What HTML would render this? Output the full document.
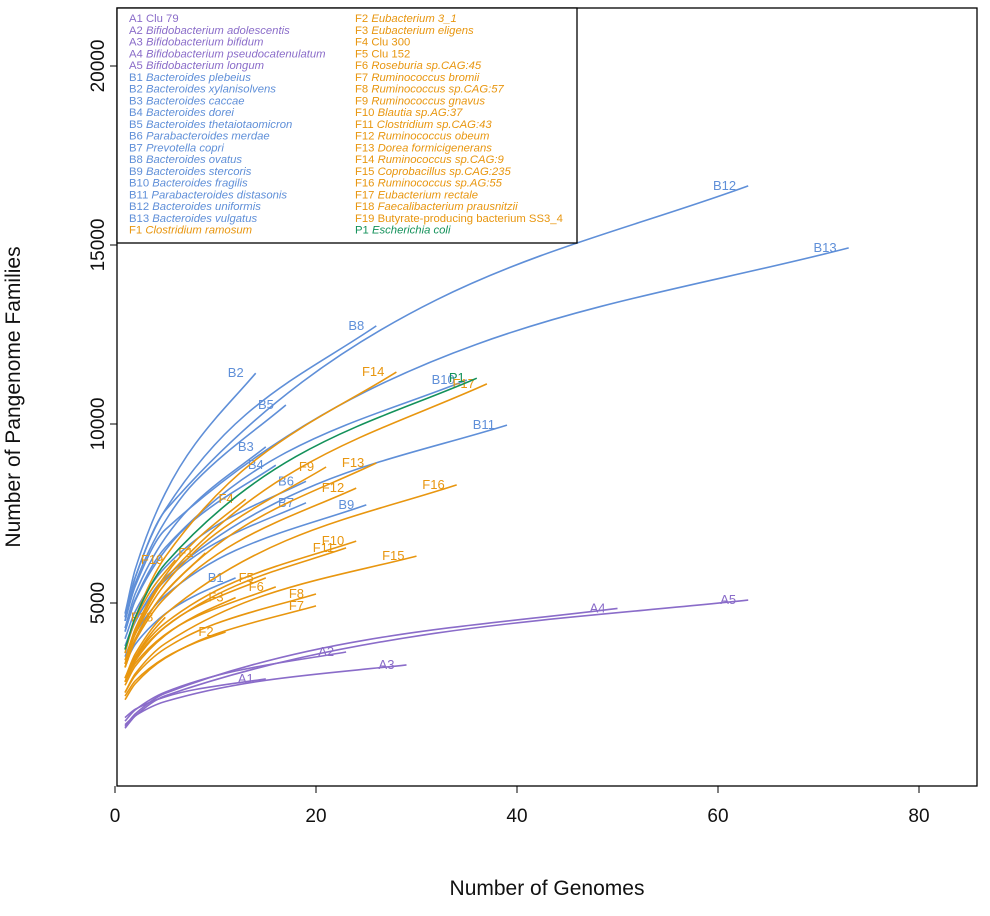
<!DOCTYPE html>
<html><head><meta charset="utf-8"><style>
html,body{margin:0;padding:0;background:#fff;}
svg{display:block;font-family:"Liberation Sans",Arial,sans-serif;}
</style></head><body>
<svg id="chart" width="990" height="916" viewBox="0 0 990 916" xmlns="http://www.w3.org/2000/svg">
<rect x="117" y="8" width="860" height="778" fill="none" stroke="#000" stroke-width="1.3"/>
<g id="axes"></g>
<g id="series"></g>
<g id="legend"></g>
<text x="547" y="895" font-size="21" text-anchor="middle" fill="#111">Number of Genomes</text>
<text transform="translate(20,397) rotate(-90)" font-size="21" text-anchor="middle" fill="#111">Number of Pangenome Families</text>
</svg>
<script>
const xTicks = [0, 20, 40, 60, 80];
const yTicks = [5000, 10000, 15000, 20000];
const seriesNames = ["A1","A2","A3","A4","A5","B1","B2","B3","B4","B5","B6","B7","B8","B9","B10","B11","B12","B13","F1","F2","F3","F4","F5","F6","F7","F8","F9","F10","F11","F12","F13","F14","F15","F16","F17","F18","F19","P1"];
const seriesGroups = ["A","A","A","A","A","B","B","B","B","B","B","B","B","B","B","B","B","B","F","F","F","F","F","F","F","F","F","F","F","F","F","F","F","F","F","F","F","P"];
const seriesGenomes = [
[1,2,5,8,15],[1,2,5,12,23],[1,2,5,15,29],[1,2,5,25,50],[1,2,5,32,63],
[1,2,5,8,12],[1,2,5,8,14],[1,2,5,8,15],[1,2,5,8,16],[1,2,5,8,17],[1,2,5,10,19],[1,2,5,10,19],[1,2,5,13,26],[1,2,5,12,25],[1,2,5,17,35],[1,2,5,20,39],[1,2,5,32,63],[1,2,5,36,73],
[1,2,3,5,9],[1,2,5,8,11],[1,2,5,8,12],[1,2,5,8,13],[1,2,5,8,15],[1,2,5,8,16],[1,2,5,10,20],[1,2,5,10,20],[1,2,5,10,21],[1,2,5,12,24],[1,2,5,12,23],[1,2,5,12,24],[1,2,5,13,26],[1,2,5,14,28],[1,2,5,15,30],[1,2,5,17,34],[1,2,5,18,37],[1,2,3,4,5],[1,2,3,4,6],[1,2,5,18,36]];
const seriesValues = [
[1800,2030,2380,2585,2880],[1700,2010,2510,3100,3630],[1600,1850,2250,2840,3270],[1550,1900,2480,3970,4850],[1500,1840,2410,4160,5080],
[3300,3840,4700,5210,5700],[4700,5930,8070,9450,11420],[4300,5250,6820,7810,9360],[4200,5060,6470,7350,8850],[4500,5540,7290,8400,10530],[4000,4760,6000,7150,8400],[3800,4500,5630,6670,7800],[4600,5710,7610,10260,12740],[3500,4150,5210,6470,7740],[4200,5090,6550,9200,11230],[3700,4460,5720,8310,9970],[4600,5700,7580,13470,16650],[4500,5460,7050,12230,14920],
[3200,3980,4520,5310,6400],[2400,2820,3480,3890,4190],[2700,3230,4100,4640,5150],[3400,4270,5770,6740,7900],[2900,3450,4340,4880,5700],[2800,3310,4120,4610,5450],[2300,2740,3460,4130,4920],[2500,2970,3730,4420,5250],[3300,4120,5540,6930,8800],[2900,3490,4440,5600,6730],[2800,3380,4330,5480,6540],[3200,3930,5150,6680,8210],[3200,3980,5300,7170,8910],[3600,4580,6290,9000,11450],[2500,3020,3870,5225,6310],[2900,3570,4690,6740,8300],[3300,4170,5670,8710,11120],[2800,3470,3930,4290,4600],[3700,4520,5080,5520,6200],[3700,4590,6100,9090,11280]];
const legendCol1 = [["A1","Clu 79",0],["A2","Bifidobacterium adolescentis",1],["A3","Bifidobacterium bifidum",1],["A4","Bifidobacterium pseudocatenulatum",1],["A5","Bifidobacterium longum",1],["B1","Bacteroides plebeius",1],["B2","Bacteroides xylanisolvens",1],["B3","Bacteroides caccae",1],["B4","Bacteroides dorei",1],["B5","Bacteroides thetaiotaomicron",1],["B6","Parabacteroides merdae",1],["B7","Prevotella copri",1],["B8","Bacteroides ovatus",1],["B9","Bacteroides stercoris",1],["B10","Bacteroides fragilis",1],["B11","Parabacteroides distasonis",1],["B12","Bacteroides uniformis",1],["B13","Bacteroides vulgatus",1],["F1","Clostridium ramosum",1]];
const legendCol2 = [["F2","Eubacterium 3_1",1],["F3","Eubacterium eligens",1],["F4","Clu 300",0],["F5","Clu 152",0],["F6","Roseburia sp.CAG:45",1],["F7","Ruminococcus bromii",1],["F8","Ruminococcus sp.CAG:57",1],["F9","Ruminococcus gnavus",1],["F10","Blautia sp.AG:37",1],["F11","Clostridium sp.CAG:43",1],["F12","Ruminococcus obeum",1],["F13","Dorea formicigenerans",1],["F14","Ruminococcus sp.CAG:9",1],["F15","Coprobacillus sp.CAG:235",1],["F16","Ruminococcus sp.AG:55",1],["F17","Eubacterium rectale",1],["F18","Faecalibacterium prausnitzii",1],["F19","Butyrate-producing bacterium SS3_4",0],["P1","Escherichia coli",1]];

const colors = {A:"#8a6cc9", B:"#5f8fd8", F:"#e8960f", P:"#13915a"};
const NS = "http://www.w3.org/2000/svg";
function xs(n){ return 115 + n * 10.05; }
function ys(v){ return 782 - v * 0.0358; }
function mk(tag, attrs, parent){ const e = document.createElementNS(NS, tag); for (const k in attrs) e.setAttribute(k, attrs[k]); parent.appendChild(e); return e; }

const axes = document.getElementById('axes');
xTicks.forEach(t => {
  const l = mk('line', {x1:xs(t), x2:xs(t), y1:786, y2:793, stroke:'#000'}, axes);
  
  
  const tx = mk('text', {x:xs(t), y:822, 'font-size':19, 'text-anchor':'middle', fill:'#111'}, axes);
  
  
  tx.textContent = t;
});
yTicks.forEach(t => {
  const l = mk('line', {x1:110, x2:117, y1:ys(t), y2:ys(t), stroke:'#000'}, axes);
  
  
  const tx = mk('text', {transform:'translate(104,' + ys(t) + ') rotate(-90)', 'font-size':19, 'text-anchor':'middle', fill:'#111'}, axes);
  
  
  tx.textContent = t;
});

// monotone cubic (Fritsch-Carlson) path through points
function smoothPath(pts){
  const n = pts.length, d = [], m = [];
  for (let i = 0; i < n-1; i++) d.push((pts[i+1][1]-pts[i][1])/(pts[i+1][0]-pts[i][0]));
  m[0] = d[0]; m[n-1] = d[n-2];
  for (let i = 1; i < n-1; i++) m[i] = (d[i-1]*d[i] <= 0) ? 0 : 2/(1/d[i-1]+1/d[i]);
  let s = 'M' + pts[0][0].toFixed(1) + ',' + pts[0][1].toFixed(1);
  for (let i = 0; i < n-1; i++) {
    const h = pts[i+1][0]-pts[i][0];
    const c1x = pts[i][0]+h/3, c1y = pts[i][1]+m[i]*h/3;
    const c2x = pts[i+1][0]-h/3, c2y = pts[i+1][1]-m[i+1]*h/3;
    s += 'C' + c1x.toFixed(1) + ',' + c1y.toFixed(1) + ' ' + c2x.toFixed(1) + ',' + c2y.toFixed(1) + ' ' + pts[i+1][0].toFixed(1) + ',' + pts[i+1][1].toFixed(1);
  }
  return s;
}
const sg = document.getElementById('series');
seriesNames.forEach((nm, i) => {
  const col = colors[seriesGroups[i]];
  const pts = seriesGenomes[i].map((n, j) => [xs(n), ys(seriesValues[i][j])]);
  const p = mk('path', {d:smoothPath(pts), fill:'none', stroke:col, 'stroke-width':1.6}, sg);
  
  
  const last = pts[pts.length-1];
  const t = mk('text', {x:last[0]-12, y:last[1]+4, 'font-size':13, 'text-anchor':'end', fill:col}, sg);
  
  
  t.textContent = nm;
});

const lg = document.getElementById('legend');
const box = mk('rect', {x:117, y:8, width:460, height:235, fill:'#fff', stroke:'#000', 'stroke-width':1.3}, lg);


function legendCol(items, x){
  items.forEach((it, i) => {
    const grp = it[0][0];
    const t = mk('text', {x:x, y:22 + i*11.75, 'font-size':11.3, fill:colors[grp]}, lg);
    
    
    const a = mk('tspan', {}, t); a.textContent = it[0] + ' ';
    const b = mk('tspan', it[2] ? {'font-style':'italic'} : {}, t); b.textContent = it[1];
  });
}
legendCol(legendCol1, 129);
legendCol(legendCol2, 355);
</script>
</body></html>
